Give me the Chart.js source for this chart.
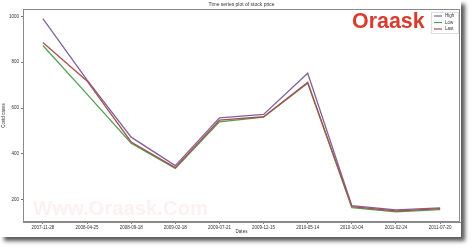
<!DOCTYPE html>
<html>
<head>
<meta charset="utf-8">
<script src="https://cdn.jsdelivr.net/npm/chart.js@4"></script>
<style>
html,body{margin:0;padding:0;background:#fff;}
#wrap{width:474px;height:250px;}
</style>
</head>
<body>
<div id="wrap"><canvas id="c" width="474" height="250"></canvas></div>
<script>
const dates = ['2007-11-28','2008-04-25','2008-09-18','2009-02-18','2009-07-21','2009-12-15','2010-05-14','2010-10-04','2011-02-24','2011-07-20'];
const highValues = [990, 723, 473, 349, 557, 572, 752, 174, 156, 165];
const lowValues  = [873, 661, 447, 337, 540, 560, 708, 166, 147, 157];
const lastValues = [886, 718, 452, 340, 547, 562, 712, 170, 151, 161];
const yTicks = [200, 400, 600, 800, 1000];
const seriesNames = ['High', 'Low', 'Last'];
const chartTitle = 'Time series plot of stock price';
const xTitle = 'Dates';
const yTitle = 'Covid cases';
const watermark = 'Www.Oraask.Com';
const logoText = 'Oraask';

const colors = ['#80639e', '#559f55', '#a85050'];
const FONT = '"Liberation Sans", Arial, sans-serif';

const toXY = arr => arr.map((v, i) => ({x: i, y: v}));

const decor = {
  id: 'decor',
  beforeDraw(chart) {
    const ctx = chart.ctx;
    ctx.save();
    ctx.fillStyle = '#fff';
    ctx.fillRect(0, 0, chart.width, chart.height);
    ctx.shadowColor = 'rgba(0,0,0,0.65)';
    ctx.shadowBlur = 4;
    ctx.shadowOffsetX = 4;
    ctx.shadowOffsetY = 4;
    ctx.fillStyle = '#fff';
    ctx.fillRect(0, 0, 461, 237);
    ctx.restore();
  },
  beforeDatasetsDraw(chart) {
    const ctx = chart.ctx;
    ctx.save();
    ctx.font = 'bold 20px ' + FONT;
    const w = ctx.measureText(watermark).width;
    const size = 20 * 175 / w;
    ctx.font = 'bold ' + size.toFixed(2) + 'px ' + FONT;
    ctx.fillStyle = 'rgba(240,140,140,0.13)';
    ctx.textBaseline = 'alphabetic';
    ctx.textAlign = 'left';
    ctx.fillText(watermark, 33, 215);
    ctx.restore();
  },
  afterDraw(chart) {
    const ctx = chart.ctx;
    const a = chart.chartArea;
    ctx.save();
    ctx.strokeStyle = '#8a8a8a';
    ctx.lineWidth = 1;
    ctx.strokeRect(a.left + 0.5, a.top + 0.5, a.right - a.left - 1, a.bottom - a.top - 1);
    ctx.fillStyle = '#333';
    ctx.font = '5px ' + FONT;
    ctx.textAlign = 'center';
    ctx.textBaseline = 'middle';
    ctx.fillText(chartTitle, (a.left + a.right) / 2, 5);
    ctx.font = '20px ' + FONT;
    const lw = ctx.measureText(logoText).width;
    const ls = 20 * 69 / lw;
    ctx.font = '600 ' + ls.toFixed(2) + 'px ' + FONT;
    ctx.fillStyle = '#d83c2f';
    ctx.textAlign = 'left';
    ctx.textBaseline = 'alphabetic';
    ctx.fillText(logoText, 352, 28);
    ctx.fillStyle = 'rgba(255,255,255,0.9)';
    ctx.strokeStyle = '#dddddd';
    ctx.fillRect(431.5, 12.5, 27, 21);
    ctx.strokeRect(431.5, 12.5, 27, 21);
    ctx.font = '4.5px ' + FONT;
    ctx.textBaseline = 'middle';
    chart.data.datasets.forEach((ds, i) => {
      const y = 16 + i * 6.5;
      ctx.strokeStyle = ds.borderColor;
      ctx.lineWidth = 1.2;
      ctx.beginPath();
      ctx.moveTo(434, y);
      ctx.lineTo(442, y);
      ctx.stroke();
      ctx.fillStyle = '#333';
      ctx.fillText(ds.label, 445, y);
    });
    ctx.restore();
  }
};

new Chart(document.getElementById('c'), {
  type: 'line',
  data: {
    datasets: [
      {label: seriesNames[0], data: toXY(highValues), borderColor: colors[0], order: 3},
      {label: seriesNames[1], data: toXY(lowValues), borderColor: colors[1], order: 2},
      {label: seriesNames[2], data: toXY(lastValues), borderColor: colors[2], order: 1}
    ]
  },
  options: {
    responsive: false,
    animation: false,
    devicePixelRatio: 1,
    layout: {padding: {left: 0, top: 9, right: 14, bottom: 14}},
    elements: {
      line: {borderWidth: 1.3, tension: 0, fill: false},
      point: {radius: 0, hoverRadius: 0}
    },
    plugins: {
      legend: {display: false},
      tooltip: {enabled: false},
      title: {display: false}
    },
    scales: {
      x: {
        type: 'linear',
        min: -0.45,
        max: dates.length - 1 + 0.45,
        afterBuildTicks: s => { s.ticks = dates.map((_, i) => ({value: i})); },
        afterFit: s => { s.height = 14; },
        grid: {drawOnChartArea: false, drawTicks: true, tickLength: 2, tickColor: '#777'},
        border: {display: true, color: '#8a8a8a'},
        ticks: {
          autoSkip: false, maxRotation: 0, minRotation: 0, padding: 1,
          color: '#333', font: {size: 4.5, family: FONT},
          callback: v => dates[v]
        },
        title: {display: true, text: xTitle, color: '#333', font: {size: 4.5, family: FONT}, padding: {top: 0, bottom: 1.5}}
      },
      y: {
        min: 103,
        max: 1032,
        afterBuildTicks: s => { s.ticks = yTicks.map(v => ({value: v})); },
        afterFit: s => { s.width = 23; },
        grid: {drawOnChartArea: false, drawTicks: true, tickLength: 2, tickColor: '#777'},
        border: {display: true, color: '#8a8a8a'},
        ticks: {padding: 2, color: '#333', font: {size: 4.5, family: FONT}, callback: v => String(v)},
        title: {display: true, text: yTitle, color: '#333', font: {size: 4.5, family: FONT}, padding: {top: 1, bottom: 0}}
      }
    }
  },
  plugins: [decor]
});
</script>
</body>
</html>
